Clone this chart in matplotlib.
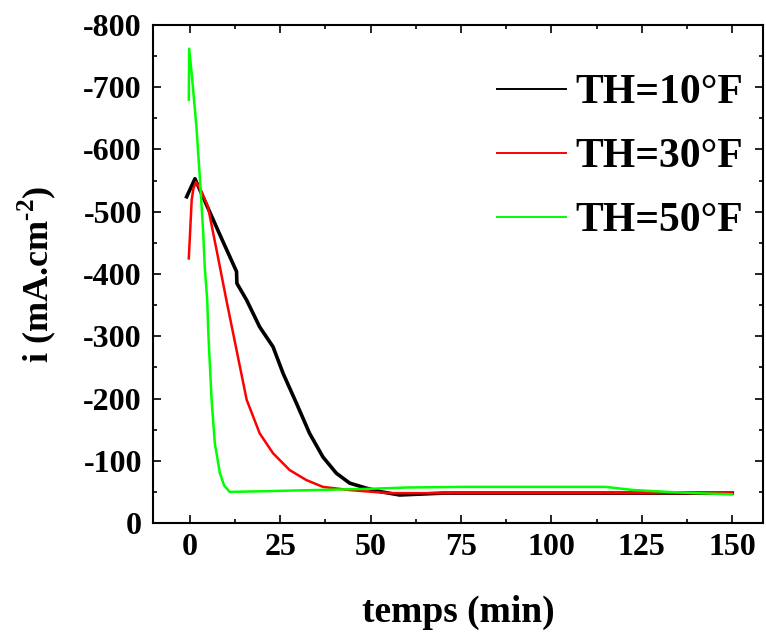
import matplotlib
matplotlib.use('Agg')
import matplotlib.pyplot as plt
from matplotlib.ticker import MultipleLocator

# TH = 10 F
t10 = [-0.9, 1.4, 5, 9, 12.9, 13.0, 15.7, 19.3, 23, 25.8, 29.5, 33.1, 36.8, 40.5, 44.2, 48.8, 53, 58, 70, 90, 110, 130, 150]
i10 = [-524, -553, -506, -454, -404, -385, -358, -315, -283, -240, -192, -144, -106, -80, -64, -56, -50, -45, -48, -48, -48, -48, -48]

# TH = 30 F
t30 = [-0.3, 0.5, 1, 1.7, 3, 5, 7.4, 10.1, 12.9, 15.7, 19.3, 23, 27.6, 32.2, 36.8, 44, 55, 80, 110, 130, 150]
i30 = [-425, -519, -538, -548, -535, -508, -438, -358, -278, -198, -144, -112, -85, -69, -58, -53, -48, -48, -48, -48, -48]

# TH = 50 F
t50 = [-0.3, -0.2, 0.5, 1.8, 2.8, 3.7, 4.1, 4.8, 5.1, 6, 6.9, 8.3, 9.5, 11, 20, 35, 50, 60, 75, 100, 115, 122.6, 132, 140, 150]
i50 = [-680, -762, -722, -637, -551, -465, -412, -358, -305, -198, -128, -80, -60, -50, -51, -53, -55, -57, -58, -58, -58, -53, -50, -48, -46]

labels = ['TH=10\u00b0F', 'TH=30\u00b0F', 'TH=50\u00b0F']

plt.rcParams['font.family'] = 'Liberation Serif'
plt.rcParams['font.weight'] = 'bold'
plt.rcParams['axes.unicode_minus'] = False
plt.rcParams['mathtext.fontset'] = 'custom'
plt.rcParams['mathtext.rm'] = 'Liberation Serif:bold'
plt.rcParams['mathtext.bf'] = 'Liberation Serif:bold'

fig = plt.figure(figsize=(7.66, 6.32), dpi=100)
ax = fig.add_axes([153/766, 1-523/632, (763-153)/766, (523-25)/632])

l1, = ax.plot(t10, i10, color='black', lw=2.6)
l2, = ax.plot(t30, i30, color='#ff0000', lw=1.8)
l3, = ax.plot(t50, i50, color='#00ff00', lw=1.8)

ax.set_xlim(-10.2, 158.5)
ax.set_ylim(0, -800)
ax.xaxis.set_major_locator(MultipleLocator(25))
ax.xaxis.set_minor_locator(MultipleLocator(12.5))
ax.yaxis.set_major_locator(MultipleLocator(100))
ax.yaxis.set_minor_locator(MultipleLocator(50))
ax.tick_params(which='both', direction='in', top=True, right=True, width=1.2)
ax.tick_params(which='major', length=6, labelsize=23)
ax.tick_params(which='minor', length=3)
ax.tick_params(axis='y', pad=8)
ax.tick_params(axis='x', pad=7)
for s in ax.spines.values():
    s.set_linewidth(1.5)
for lab in ax.get_xticklabels() + ax.get_yticklabels():
    lab.set_fontweight('bold')

ax.set_xlabel('temps (min)', fontsize=27, fontweight='bold', labelpad=24)
ax.set_ylabel(r'i (mA.cm$^{\text{-2}}$)', fontsize=26, fontweight='bold', labelpad=18)

leg = ax.legend([l1, l2, l3], labels, loc='upper left',
                bbox_to_anchor=(497/766, 1-74/632), bbox_transform=fig.transFigure,
                frameon=False, fontsize=30, handlelength=1.65, handletextpad=0.22,
                labelspacing=0.62, borderpad=0, borderaxespad=0)
for h in leg.get_lines():
    h.set_linewidth(1.4)
for txt in leg.get_texts():
    txt.set_fontweight('bold')

fig.savefig('out.png', dpi=100)
